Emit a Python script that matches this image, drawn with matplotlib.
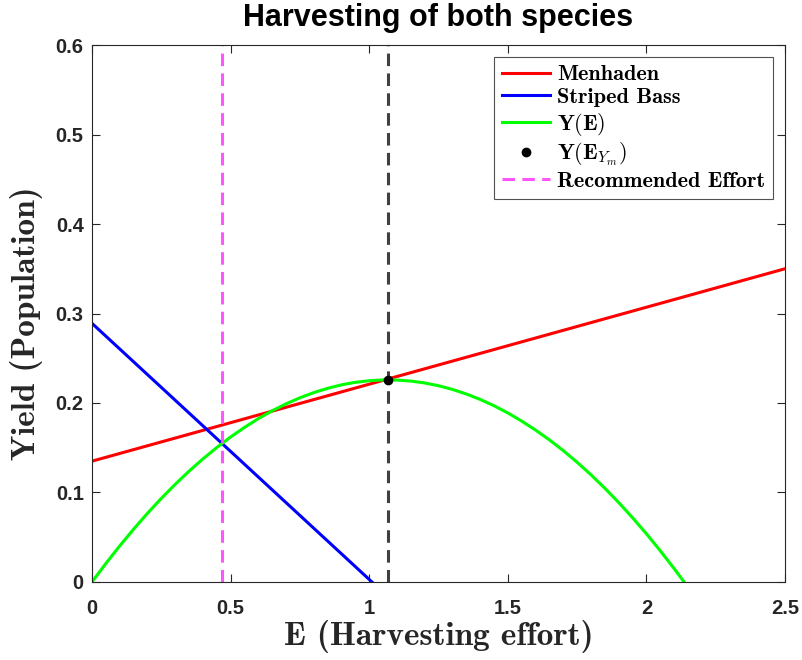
import numpy as np
import matplotlib
matplotlib.use("Agg")
import matplotlib.pyplot as plt

plt.rcParams["mathtext.fontset"] = "cm"

# Values
menhaden_E = [0.0, 2.5]
menhaden_Y = [0.135, 0.350]

bass_E = [0.0, 1.01]
bass_Y = [0.289, 0.0]

yield_E = [0.0, 0.05, 0.1, 0.15, 0.2, 0.25, 0.3, 0.35, 0.4, 0.45, 0.5,
           0.55, 0.6, 0.65, 0.7, 0.75, 0.8, 0.85, 0.9, 0.95, 1.0, 1.05,
           1.1, 1.15, 1.2, 1.25, 1.3, 1.35, 1.4, 1.45, 1.5, 1.55, 1.6,
           1.65, 1.7, 1.75, 1.8, 1.85, 1.9, 1.95, 2.0, 2.05, 2.1, 2.136]
yield_Y = [0.0, 0.0207, 0.0403, 0.0590, 0.0767, 0.0934, 0.1091, 0.1238,
           0.1375, 0.1502, 0.1620, 0.1727, 0.1825, 0.1913, 0.1990, 0.2058,
           0.2116, 0.2164, 0.2203, 0.2231, 0.2249, 0.2258, 0.2256, 0.2245,
           0.2224, 0.2193, 0.2152, 0.2101, 0.2040, 0.1970, 0.1889, 0.1798,
           0.1698, 0.1588, 0.1468, 0.1338, 0.1198, 0.1048, 0.0888, 0.0718,
           0.0539, 0.0349, 0.0150, 0.0]

E_max = 1.068
Y_max = 0.226
E_recommended = 0.469

x_ticks = [0, 0.5, 1, 1.5, 2, 2.5]
x_ticklabels = ["0", "0.5", "1", "1.5", "2", "2.5"]
y_ticks = [0, 0.1, 0.2, 0.3, 0.4, 0.5, 0.6]
y_ticklabels = ["0", "0.1", "0.2", "0.3", "0.4", "0.5", "0.6"]

fig = plt.figure(figsize=(8.02, 6.60), dpi=100)
ax = fig.add_axes([0.1147, 0.1182, 0.8641, 0.8136])

dash = (0, (4.1, 2.4))
ax.plot(menhaden_E, menhaden_Y, color="#ff0000", lw=2.2, label="Menhaden")
ax.plot(bass_E, bass_Y, color="#0000ff", lw=2.2, label="Striped Bass")
ax.plot(yield_E, yield_Y, color="#00ff00", lw=2.2, label=r"$\mathbf{Y(E)}$")
ax.plot([E_max], [Y_max], "o", color="black", ms=6,
        label=r"$\mathbf{Y(E}_{Y_m}\mathbf{)}$", zorder=6)
ax.axvline(E_recommended, color="#ff55ff", lw=2.2, ls=dash,
           label="Recommended Effort")
ax.axvline(E_max, color="#404040", lw=2.2, ls=dash)

ax.set_xlim(0, 2.5)
ax.set_ylim(0, 0.6)
ax.set_xticks(x_ticks)
ax.set_xticklabels(x_ticklabels)
ax.set_yticks(y_ticks)
ax.set_yticklabels(y_ticklabels)

for lbl in ax.get_xticklabels() + ax.get_yticklabels():
    lbl.set_fontfamily("Liberation Sans")
    lbl.set_fontweight("bold")
    lbl.set_fontsize(14.5)
    lbl.set_color("#262626")

ax.tick_params(direction="in", top=True, right=True, length=5.5,
               width=0.8, color="#262626")
ax.tick_params(axis="x", pad=12)
ax.tick_params(axis="y", pad=6)
for sp in ax.spines.values():
    sp.set_color("#262626")
    sp.set_linewidth(0.8)

ax.set_xlabel("E (Harvesting effort)", fontfamily="cmb10", fontsize=24,
              color="#262626")
ax.xaxis.set_label_coords(0.5, -0.07)
ax.set_ylabel("Yield (Population)", fontfamily="cmb10", fontsize=24,
              color="#262626")
ax.yaxis.set_label_coords(-0.071, 0.482)
ax.set_title("Harvesting of both species", fontfamily="Liberation Sans",
             fontweight="bold", fontsize=22, pad=13.5)

leg = ax.legend(loc="upper right", prop={"family": "cmb10", "size": 16},
                frameon=True, fancybox=False, edgecolor="#262626",
                borderaxespad=0.54, handlelength=2.2, handletextpad=0.3,
                labelspacing=0.15, borderpad=0.35)
leg.get_frame().set_linewidth(0.8)

fig.savefig("out.png", dpi=100)
